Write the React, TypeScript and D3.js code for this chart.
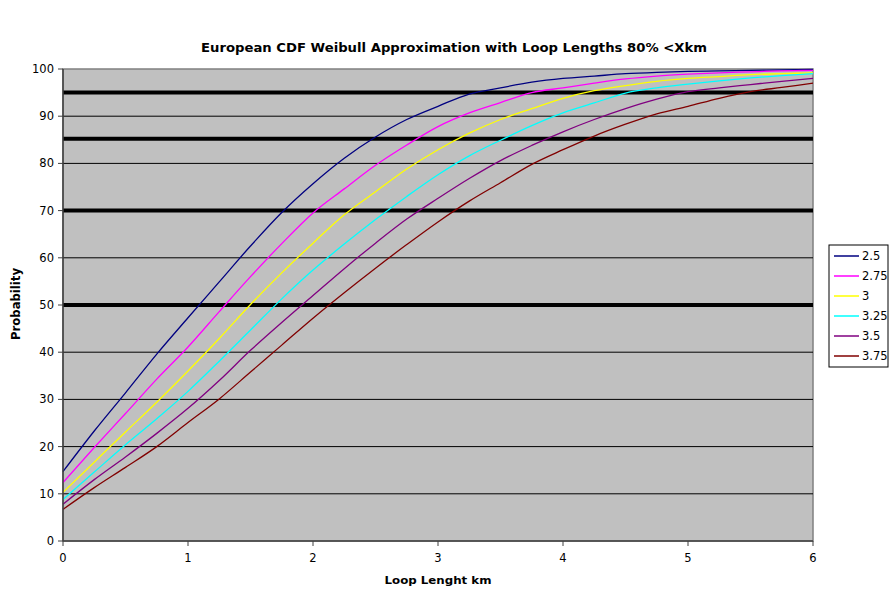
import React from "react";
import * as d3 from "d3";

const title = "European CDF Weibull Approximation with Loop Lengths 80% <Xkm";
const xLabel = "Loop Lenght km";
const yLabel = "Probability";

const distances = [0, 0.25, 0.5, 0.75, 1, 1.25, 1.5, 1.75, 2, 2.25, 2.5, 2.75, 3, 3.25, 3.5, 3.75, 4, 4.25, 4.5, 4.75, 5, 5.25, 5.5, 5.75, 6];

const seriesNames = ["2.5", "2.75", "3", "3.25", "3.5", "3.75"];
const seriesColors = ["#000080", "#ff00ff", "#ffff00", "#00ffff", "#800080", "#800000"];

const s250 = [14.7, 23.3, 31.4, 39.6, 47.3, 54.9, 62.5, 69.6, 75.7, 81.1, 85.6, 89.3, 92.1, 94.7, 96.0, 97.2, 98.0, 98.5, 99.0, 99.3, 99.5, 99.6, 99.7, 99.8, 99.9];
const s275 = [12.4, 19.8, 27.0, 34.3, 41.1, 48.6, 56.0, 63.0, 69.5, 74.6, 79.6, 83.9, 87.8, 90.7, 92.9, 95.0, 96.0, 97.0, 97.9, 98.5, 98.9, 99.2, 99.4, 99.6, 99.7];
const s300 = [10.3, 16.7, 23.1, 29.4, 36.0, 42.9, 50.1, 56.8, 63.1, 69.1, 74.0, 78.8, 82.9, 86.4, 89.3, 91.6, 93.8, 95.4, 96.5, 97.4, 98.0, 98.4, 98.8, 99.0, 99.2];
const s325 = [8.8, 14.6, 20.4, 25.9, 31.7, 38.1, 44.7, 51.3, 57.4, 62.9, 68.1, 73.0, 77.6, 81.6, 84.9, 88.0, 90.7, 92.8, 94.9, 96.0, 96.8, 97.5, 98.1, 98.6, 99.0];
const s350 = [7.8, 13.0, 17.8, 22.8, 28.1, 34.0, 40.4, 46.3, 52.0, 57.7, 63.1, 68.2, 72.6, 76.8, 80.6, 83.8, 86.7, 89.3, 91.6, 93.6, 95.2, 96.0, 96.7, 97.4, 98.0];
const s375 = [6.7, 11.3, 15.6, 20.0, 25.1, 30.1, 35.8, 41.5, 47.2, 52.6, 57.8, 62.8, 67.6, 72.0, 75.9, 79.8, 82.9, 85.8, 88.3, 90.5, 92.1, 93.8, 95.2, 96.1, 97.0];
const seriesValues = [s250, s275, s300, s325, s350, s375];

// threshold lines (thick)
const thresholds = [95, 85.2, 70, 50];

const xTicks = [0, 1, 2, 3, 4, 5, 6];
const yTicks = [0, 10, 20, 30, 40, 50, 60, 70, 80, 90, 100];

const W = 890;
const H = 589;
const left = 63;
const right = 813;
const top = 69;
const bottom = 541;
const font = "'DejaVu Sans', Verdana, sans-serif";

export default function App() {
  const x = d3.scaleLinear().domain([0, 6]).range([left, right]);
  const y = d3.scaleLinear().domain([0, 100]).range([bottom, top]);
  const line = d3
    .line<number>()
    .x((d, i) => x(distances[i]))
    .y(d => y(d))
    .curve(d3.curveMonotoneX);

  return (
    <div style={{ position: "absolute", left: 0, top: 0 }}>
      <svg width={W} height={H} style={{ display: "block", fontFamily: font }}>
        <rect x={0} y={0} width={W} height={H} fill="#fff" />
        <text x={454} y={52} textAnchor="middle" fontSize={13} fontWeight="bold" textLength={506} lengthAdjust="spacingAndGlyphs">
          {title}
        </text>
        <rect x={left} y={top} width={right - left} height={bottom - top} fill="#c0c0c0" stroke="#808080" strokeWidth={1.5} />
        {yTicks.slice(1, -1).map(t => (
          <line key={t} x1={left} x2={right} y1={y(t)} y2={y(t)} stroke="#000" strokeWidth={1} />
        ))}
        {thresholds.map(t => (
          <line key={"th" + t} x1={left} x2={right} y1={y(t)} y2={y(t)} stroke="#000" strokeWidth={4} />
        ))}
        {seriesValues.map((vals, i) => (
          <path key={seriesNames[i]} d={line(vals) || ""} fill="none" stroke={seriesColors[i]} strokeWidth={1.3} />
        ))}
        {/* axes */}
        <line x1={left} x2={left} y1={top} y2={bottom} stroke="#404040" strokeWidth={1.5} />
        <line x1={left} x2={right} y1={bottom} y2={bottom} stroke="#404040" strokeWidth={1.5} />
        {yTicks.map(t => (
          <g key={"y" + t}>
            <line x1={left - 5} x2={left} y1={y(t)} y2={y(t)} stroke="#404040" />
            <text x={left - 9} y={y(t) + 4} textAnchor="end" fontSize={11.5}>
              {t}
            </text>
          </g>
        ))}
        {xTicks.map(t => (
          <g key={"x" + t}>
            <line x1={x(t)} x2={x(t)} y1={bottom} y2={bottom + 5} stroke="#404040" />
            <text x={x(t)} y={bottom + 21} textAnchor="middle" fontSize={11.5}>
              {t}
            </text>
          </g>
        ))}
        <text x={438} y={584} textAnchor="middle" fontSize={11} fontWeight="bold" textLength={107} lengthAdjust="spacingAndGlyphs">
          {xLabel}
        </text>
        <text transform={`translate(20 304) rotate(-90)`} textAnchor="middle" fontSize={11.5} fontWeight="bold" textLength={72} lengthAdjust="spacingAndGlyphs">
          {yLabel}
        </text>
        {/* legend */}
        <rect x={829} y={245} width={59} height={122} fill="#fff" stroke="#000" />
        {seriesNames.map((n, i) => (
          <g key={"lg" + n}>
            <line x1={834} x2={859} y1={256 + i * 20} y2={256 + i * 20} stroke={seriesColors[i]} strokeWidth={1.5} />
            <text x={862} y={260 + i * 20} fontSize={11.5}>
              {n}
            </text>
          </g>
        ))}
      </svg>
    </div>
  );
}
